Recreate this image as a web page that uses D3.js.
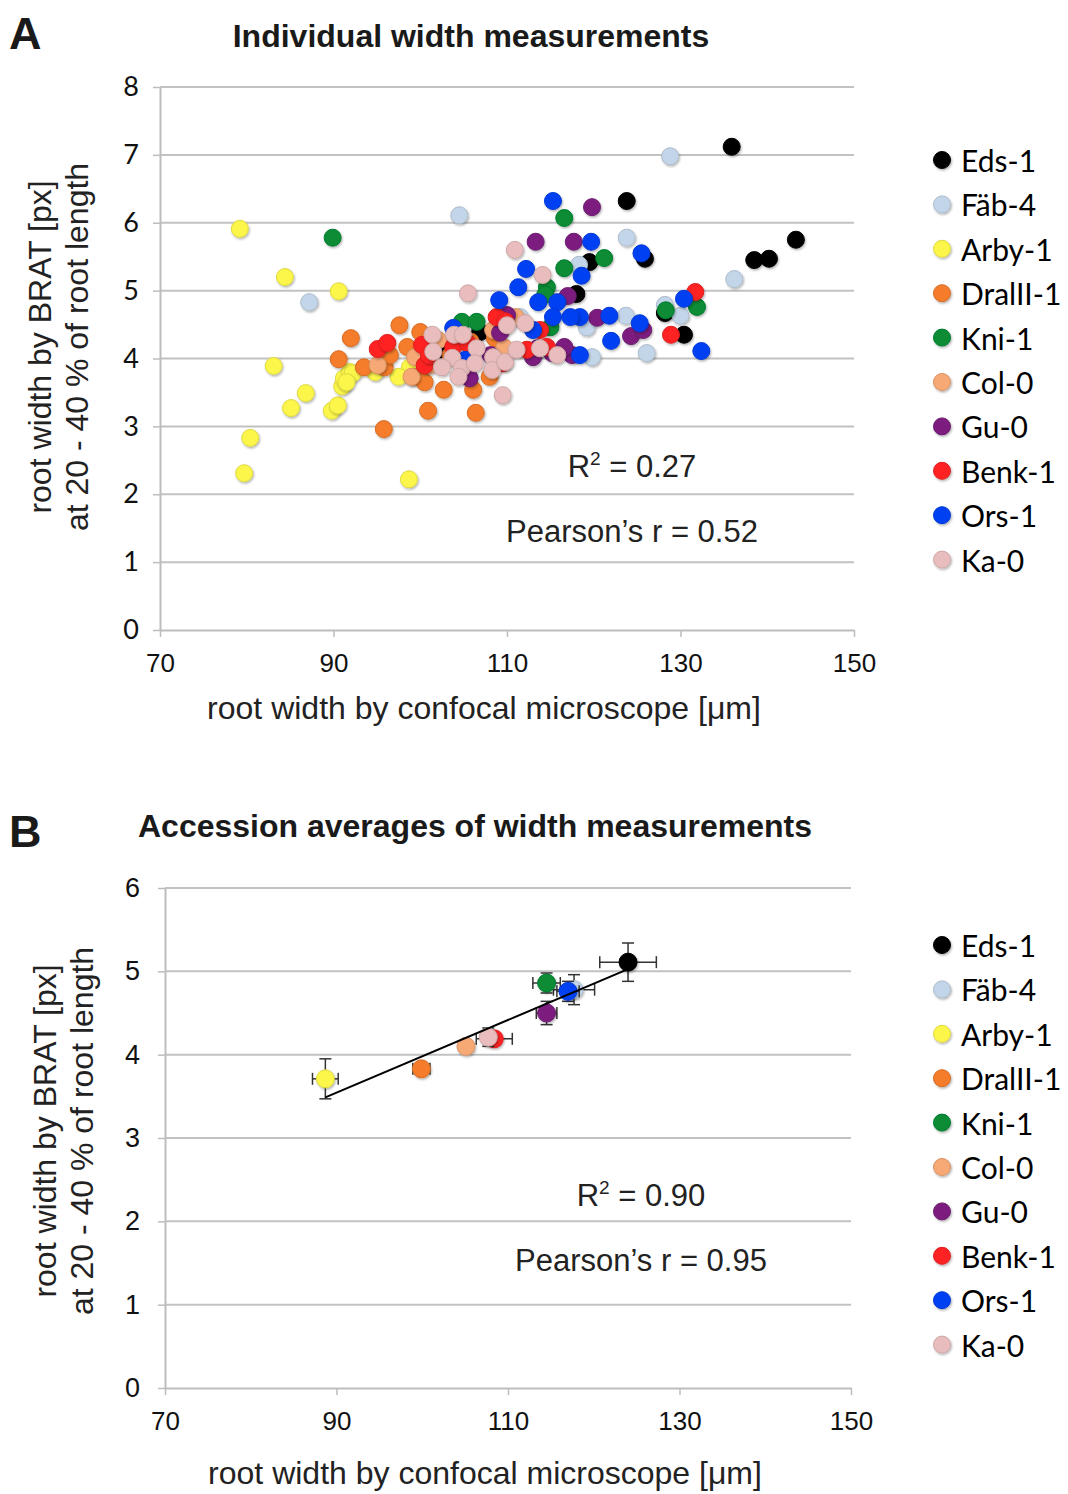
<!DOCTYPE html>
<html>
<head>
<meta charset="utf-8">
<script src="https://cdn.jsdelivr.net/npm/d3@7"></script>
<style>
  body { margin: 0; background: #fff; }
  svg { display: block; }
</style>
</head>
<body>
<div id="chart"></div>
<script>
// accessions, in legend order (later series drawn on top)
var accessions = ['Eds-1', 'Fäb-4', 'Arby-1', 'DralII-1', 'Kni-1', 'Col-0', 'Gu-0', 'Benk-1', 'Ors-1', 'Ka-0']
var colors = ['#000000', '#c3d5e8', '#fbf64a', '#f47b2a', '#078c35', '#f6a874', '#7b1f7f', '#fe2222', '#0041f3', '#e9bdbd']

// A: individual measurements [confocal µm, BRAT px]
var eds1 = [[135.9, 7.12], [123.8, 6.32], [125.9, 5.47], [119.5, 5.42], [118.0, 4.95], [143.3, 5.75], [138.5, 5.45], [140.2, 5.47], [128.2, 4.67], [130.4, 4.35], [106.9, 4.39], [102.6, 4.13]]
var fab4 = [[128.8, 6.98], [104.5, 6.11], [123.8, 5.78], [136.2, 5.17], [87.2, 4.83], [123.7, 4.63], [130.0, 4.63], [128.2, 4.79], [126.1, 4.08], [119.8, 4.02], [119.2, 4.46], [111.5, 4.61], [118.3, 5.38]]
var arby1 = [[79.2, 5.91], [84.4, 5.20], [90.6, 4.99], [83.1, 3.89], [86.8, 3.49], [85.1, 3.27], [80.4, 2.83], [79.7, 2.31], [98.7, 2.22], [89.8, 3.23], [90.5, 3.31], [91.0, 3.59], [91.2, 3.71], [91.9, 3.80], [94.8, 3.80], [98.8, 3.87], [97.5, 3.73], [92.2, 3.78], [91.5, 3.65]]
var dral1 = [[92.0, 4.30], [90.6, 3.99], [97.6, 4.49], [95.8, 2.96], [100.9, 3.23], [106.4, 3.20], [102.7, 3.54], [106.1, 3.54], [93.5, 3.87], [95.9, 3.87], [98.5, 4.17], [99.2, 3.73], [100.5, 3.65], [100.0, 4.39], [108.6, 4.30], [108.0, 3.73], [101.0, 4.28], [96.5, 4.05], [103.5, 4.05], [105.8, 4.25]]
var kni1 = [[89.9, 5.78], [116.6, 6.07], [116.6, 5.33], [121.2, 5.48], [114.6, 5.05], [114.4, 4.94], [128.3, 4.71], [131.9, 4.76], [104.8, 4.54], [106.5, 4.54], [115.0, 4.46]]
var col0 = [[95.1, 3.90], [99.4, 4.02], [99.0, 3.73], [108.4, 4.42], [105.1, 4.30], [102.1, 4.27], [109.7, 4.16], [105.6, 3.96], [111.0, 4.61], [101.1, 3.90]]
var gu0 = [[119.8, 6.23], [113.3, 5.72], [117.7, 5.72], [117.0, 4.92], [120.4, 4.60], [124.3, 4.33], [125.7, 4.42], [105.7, 3.71], [113.5, 4.15], [117.5, 4.05], [109.2, 4.38], [110.0, 4.64], [113.0, 4.02], [116.6, 4.17], [115.2, 4.08], [108.1, 4.05]]
var benk1 = [[95.1, 4.14], [96.2, 4.23], [100.5, 3.90], [100.2, 4.20], [103.8, 4.17], [105.5, 4.22], [108.8, 4.61], [109.5, 3.93], [113.8, 4.42], [112.3, 4.13], [131.7, 4.98], [128.9, 4.35], [114.6, 4.17], [109.8, 4.55], [101.0, 4.05]]
var ors1 = [[115.3, 6.32], [119.7, 5.72], [125.5, 5.55], [112.2, 5.32], [118.6, 5.22], [109.1, 4.86], [111.3, 5.05], [113.6, 4.83], [115.8, 4.83], [115.3, 4.61], [118.4, 4.61], [121.8, 4.63], [125.3, 4.52], [130.4, 4.88], [132.4, 4.11], [122.0, 4.26], [118.4, 4.05], [113.0, 4.42], [103.8, 4.45], [105.2, 3.98], [117.3, 4.61]]
var ka0 = [[105.5, 4.96], [110.9, 5.60], [114.1, 5.23], [101.4, 4.35], [103.9, 4.35], [104.9, 4.35], [101.5, 4.10], [103.7, 4.01], [106.5, 4.15], [102.5, 3.87], [104.8, 3.86], [106.3, 3.93], [104.4, 3.73], [108.4, 4.02], [108.3, 3.83], [109.8, 3.95], [110.0, 4.49], [112.1, 4.52], [111.1, 4.13], [113.8, 4.15], [115.8, 4.05], [109.5, 3.46]]
var individual = [eds1, fab4, arby1, dral1, kni1, col0, gu0, benk1, ors1, ka0]

// B: accession averages and error
var avgX = [124.0, 117.7, 88.7, 99.9, 114.5, 105.1, 114.5, 108.4, 117.0, 107.7]
var avgY = [5.11, 4.78, 3.71, 3.83, 4.86, 4.10, 4.50, 4.19, 4.76, 4.21]
var errX = [3.3, 2.4, 1.5, 1.0, 1.6, 0.3, 1.2, 2.1, 1.3, 0.4]
var errY = [0.23, 0.18, 0.24, 0.05, 0.12, 0.03, 0.14, 0.05, 0.12, 0.11]

var xTicks = [70, 90, 110, 130, 150]
var titleA = 'Individual width measurements'
var titleB = 'Accession averages of width measurements'
var statsA = ['0.27', '0.52']
var statsB = ['0.90', '0.95']

var svg = d3.select('#chart').append('svg').attr('width', 1068).attr('height', 1494)

svg.append('defs').append('filter').attr('id', 'shadow')
  .attr('x', '-50%').attr('y', '-50%').attr('width', '200%').attr('height', '200%')
  .append('feDropShadow')
  .attr('dx', 1).attr('dy', 1.5).attr('stdDeviation', 1.2)
  .attr('flood-color', '#000').attr('flood-opacity', 0.3)

var sans = '"Liberation Sans", Arial, sans-serif'
var lato = 'Lato, "Open Sans", sans-serif'

function drawFrame(cfg) {
  var x = d3.scaleLinear().domain([70, 150]).range([cfg.left, cfg.right])
  var y = d3.scaleLinear().domain([0, cfg.yMax]).range([cfg.bottom, cfg.top])

  // 网格线
  svg.append('g').selectAll('line').data(d3.range(1, cfg.yMax + 1)).enter().append('line')
    .attr('x1', cfg.left).attr('x2', cfg.right)
    .attr('y1', function(d) { return y(d) }).attr('y2', function(d) { return y(d) })
    .attr('stroke', '#c2c2c2').attr('stroke-width', 2)

  var gx = svg.append('g').attr('transform', `translate(0, ${cfg.bottom})`)
    .call(d3.axisBottom(x).tickValues(xTicks).tickSize(7).tickSizeOuter(0).tickPadding(17))
  gx.select('.domain').attr('stroke', '#bdbdbd').attr('stroke-width', 2)
  gx.selectAll('.tick line').attr('stroke', '#bdbdbd').attr('stroke-width', 1.5)
  gx.selectAll('text').attr('font-family', sans).attr('font-size', 26).attr('fill', '#111')

  var gy = svg.append('g').attr('transform', `translate(${cfg.left}, 0)`)
    .call(d3.axisLeft(y).tickValues(d3.range(0, cfg.yMax + 1)).tickFormat(d3.format('d'))
      .tickSize(7).tickSizeOuter(0).tickPadding(cfg.yPad))
  gy.select('.domain').attr('stroke', '#bdbdbd').attr('stroke-width', 2)
  gy.selectAll('.tick line').attr('stroke', '#bdbdbd').attr('stroke-width', 1.5)
  gy.selectAll('text').attr('font-family', cfg.yFont).attr('font-size', 27).attr('fill', '#111')

  // 标题
  svg.append('text').text(cfg.letter)
    .attr('x', 9).attr('y', cfg.letterY)
    .attr('font-family', sans).attr('font-weight', 'bold').attr('font-size', 45).attr('fill', '#1a1a1a')
  svg.append('text').text(cfg.title)
    .attr('x', cfg.titleX).attr('y', cfg.titleY).attr('text-anchor', 'middle')
    .attr('font-family', sans).attr('font-weight', 'bold').attr('font-size', 32).attr('fill', '#1a1a1a')

  svg.append('text').text('root width by confocal microscope [μm]')
    .attr('x', (cfg.left + cfg.right) / 2 - 23).attr('y', cfg.xTitleY).attr('text-anchor', 'middle')
    .attr('font-family', sans).attr('font-size', 32).attr('fill', '#222')

  var yLines = ['root width by BRAT [px]', 'at 20 - 40 % of root length']
  yLines.forEach(function(t, i) {
    svg.append('text').text(t)
      .attr('transform', `translate(${cfg.yTitleX[i]}, ${cfg.yTitleY}) rotate(-90)`)
      .attr('text-anchor', 'middle').attr('dominant-baseline', 'central')
      .attr('font-family', sans).attr('font-size', 32).attr('fill', '#222')
  })

  // R² / Pearson
  var r2 = svg.append('text').attr('x', cfg.statX).attr('y', cfg.statY[0]).attr('text-anchor', 'middle')
    .attr('font-family', sans).attr('font-size', 31).attr('fill', '#222')
  r2.append('tspan').text('R')
  r2.append('tspan').text('2').attr('font-size', 19).attr('dy', -12)
  r2.append('tspan').text(' = ' + cfg.stats[0]).attr('dy', 12)
  svg.append('text').text('Pearson’s r = ' + cfg.stats[1])
    .attr('x', cfg.statX).attr('y', cfg.statY[1]).attr('text-anchor', 'middle')
    .attr('font-family', sans).attr('font-size', 31).attr('fill', '#222')

  // 图例
  var lg = svg.append('g').selectAll('g').data(accessions).enter().append('g')
    .attr('transform', function(d, i) { return `translate(942, ${cfg.legendY + i * 44.4})` })
  lg.append('circle').attr('r', 8.5)
    .attr('fill', function(d, i) { return colors[i] })
    .attr('stroke', function(d, i) { return d3.color(colors[i]).darker(0.35) })
    .attr('stroke-width', 1)
    .attr('filter', 'url(#shadow)')
  lg.append('text').text(function(d) { return d })
    .attr('x', 19).attr('dominant-baseline', 'central')
    .attr('font-family', lato).attr('font-size', 30).attr('fill', '#000')

  return { x: x, y: y }
}

// A 面板
var a = drawFrame({
  left: 160, right: 854, top: 87, bottom: 630, yMax: 8, yPad: 14, yFont: lato,
  letter: 'A', letterY: 49, title: titleA, titleX: 471, titleY: 47,
  xTitleY: 719, yTitleX: [40, 77], yTitleY: 347,
  statX: 632, statY: [477, 542], stats: statsA, legendY: 160
})

individual.forEach(function(series, k) {
  svg.append('g').selectAll('circle').data(series).enter().append('circle')
    .attr('cx', function(d) { return a.x(d[0]) })
    .attr('cy', function(d) { return a.y(d[1]) })
    .attr('r', 8.5)
    .attr('fill', colors[k])
    .attr('stroke', d3.color(colors[k]).darker(0.35))
    .attr('stroke-width', 1)
    .attr('filter', 'url(#shadow)')
})

// B 面板
var b = drawFrame({
  left: 165, right: 851, top: 888, bottom: 1388, yMax: 6, yPad: 18, yFont: sans,
  letter: 'B', letterY: 847, title: titleB, titleX: 475, titleY: 837,
  xTitleY: 1484, yTitleX: [45, 82], yTitleY: 1131,
  statX: 641, statY: [1206, 1271], stats: statsB, legendY: 945
})

accessions.forEach(function(name, k) {
  var g = svg.append('g')
  var cx = b.x(avgX[k]), cy = b.y(avgY[k])
  var x0 = b.x(avgX[k] - errX[k]), x1 = b.x(avgX[k] + errX[k])
  var y0 = b.y(avgY[k] - errY[k]), y1 = b.y(avgY[k] + errY[k])
  var bars = [
    [x0, cy, x1, cy], [x0, cy - 6, x0, cy + 6], [x1, cy - 6, x1, cy + 6],
    [cx, y0, cx, y1], [cx - 6, y0, cx + 6, y0], [cx - 6, y1, cx + 6, y1]
  ]
  g.selectAll('line').data(bars).enter().append('line')
    .attr('x1', function(d) { return d[0] }).attr('y1', function(d) { return d[1] })
    .attr('x2', function(d) { return d[2] }).attr('y2', function(d) { return d[3] })
    .attr('stroke', '#333').attr('stroke-width', 1.5)
  g.append('circle').attr('cx', cx).attr('cy', cy).attr('r', 9)
    .attr('fill', colors[k])
    .attr('stroke', d3.color(colors[k]).darker(0.35))
    .attr('stroke-width', 1)
    .attr('filter', 'url(#shadow)')
})

// 线性回归
var mx = d3.mean(avgX), my = d3.mean(avgY)
var sxy = d3.sum(avgX, function(v, i) { return (v - mx) * (avgY[i] - my) })
var sxx = d3.sum(avgX, function(v) { return (v - mx) * (v - mx) })
var slope = sxy / sxx
var xMin = d3.min(avgX), xMax = d3.max(avgX)
svg.append('line')
  .attr('x1', b.x(xMin)).attr('y1', b.y(my + slope * (xMin - mx)))
  .attr('x2', b.x(xMax)).attr('y2', b.y(my + slope * (xMax - mx)))
  .attr('stroke', '#000').attr('stroke-width', 2)
</script>
</body>
</html>
